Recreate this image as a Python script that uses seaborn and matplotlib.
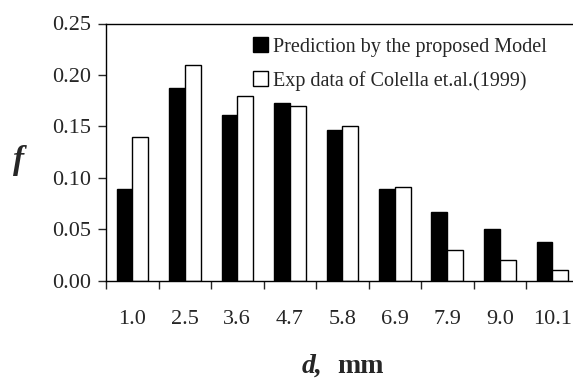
import pandas as pd
import matplotlib
matplotlib.use("Agg")
import matplotlib.pyplot as plt
import seaborn as sns

# droplet size classes (mm) and frequencies
sizes = ["1.0", "2.5", "3.6", "4.7", "5.8", "6.9", "7.9", "9.0", "10.1"]
predicted = [0.089, 0.187, 0.161, 0.173, 0.146, 0.089, 0.067, 0.050, 0.038]
experimental = [0.140, 0.210, 0.180, 0.170, 0.150, 0.091, 0.030, 0.020, 0.010]
series_names = ["Prediction by the proposed Model", "Exp data of Colella et.al.(1999)"]

df = pd.DataFrame({
    "d": sizes * 2,
    "f": predicted + experimental,
    "series": [series_names[0]] * len(sizes) + [series_names[1]] * len(sizes),
})

sns.set_style("ticks")
plt.rcParams["font.family"] = ["Liberation Serif", "DejaVu Serif"]

fig = plt.figure(figsize=(5.73, 3.81), dpi=100)
ax = fig.add_axes([106 / 573, 1 - 280.7 / 381, 472.5 / 573, (280.7 - 23.5) / 381])

sns.barplot(data=df, x="d", y="f", hue="series", palette=["black", "white"],
            edgecolor="black", linewidth=1.0, width=0.6, errorbar=None, ax=ax)

ax.set_xlim(-0.5, len(sizes) - 0.5)
ax.set_ylim(0, 0.25)
ax.set_yticks([0, 0.05, 0.10, 0.15, 0.20, 0.25])
ax.set_yticklabels(["0.00", "0.05", "0.10", "0.15", "0.20", "0.25"])
ax.tick_params(axis="y", direction="out", length=6, width=1, pad=5, labelsize=16)
ax.tick_params(axis="x", which="major", length=0, pad=21, labelsize=16)
ax.set_xticks([i - 0.5 for i in range(len(sizes) + 1)], minor=True)
ax.tick_params(axis="x", which="minor", direction="out", length=6, width=1)
ax.set_xlabel("")
ax.set_ylabel("")
for s in ax.spines.values():
    s.set_linewidth(1.0)
    s.set_color("black")

ax.legend(loc="upper left", bbox_to_anchor=(253 / 573, 1 - 37 / 381),
          bbox_transform=fig.transFigure, frameon=False, fontsize=14.5,
          handlelength=0.72, handleheight=0.78, handletextpad=0.25,
          labelspacing=0.7, borderpad=0, borderaxespad=0)

fig.text(19 / 573, 1 - 160 / 381, "f", fontsize=24, fontweight="bold",
         fontstyle="italic", ha="center", va="center")
fig.text(312 / 573, 1 - 373 / 381, "d,", fontsize=20, fontweight="bold",
         fontstyle="italic", ha="center", va="baseline")
fig.text(361 / 573, 1 - 373 / 381, "mm", fontsize=20, fontweight="bold",
         ha="center", va="baseline")

fig.savefig("out.png", dpi=100)
